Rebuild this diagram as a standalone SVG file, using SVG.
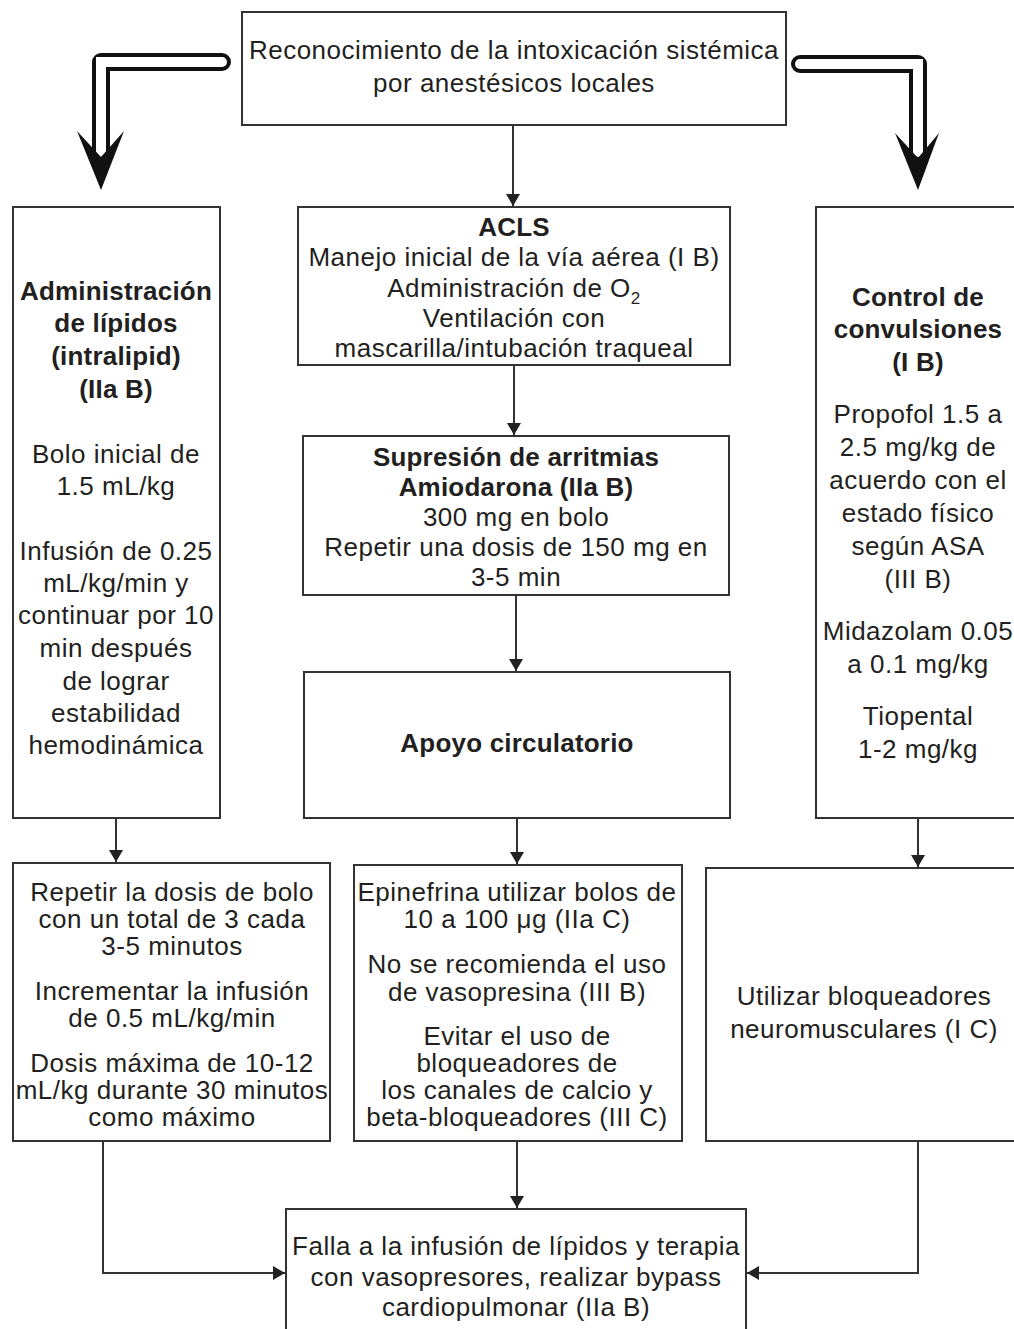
<svg xmlns="http://www.w3.org/2000/svg" width="1014" height="1329" viewBox="0 0 1014 1329">
  <defs>
    <style>
      .box { fill: #fff; stroke: #333; stroke-width: 2; }
      .t { font-family: "Liberation Sans", Arial, sans-serif; font-size: 26px; fill: #231f20; text-anchor: middle; letter-spacing: 0.5px; }
      .b { font-weight: bold; letter-spacing: 0.2px; }
      .edge { fill: none; stroke: #333; stroke-width: 2; }
      .hollow-out { fill: none; stroke: #111; stroke-width: 18; stroke-linecap: round; stroke-linejoin: round; }
      .hollow-in { fill: none; stroke: #fff; stroke-width: 10; stroke-linecap: round; stroke-linejoin: miter; }
      .head { fill: #111; }
    </style>
    <marker id="arr" viewBox="0 0 12 14" refX="12" refY="7" markerWidth="12" markerHeight="14" markerUnits="userSpaceOnUse" orient="auto">
      <path d="M0,0 L12,7 L0,14 Z" fill="#222"/>
    </marker>
  </defs>
  <rect width="1014" height="1329" fill="#fff"/>

  <!-- connectors -->
  <g id="connectors">
    <line class="edge" x1="513" y1="125" x2="513" y2="206" marker-end="url(#arr)"/>
    <line class="edge" x1="514" y1="365" x2="514" y2="435" marker-end="url(#arr)"/>
    <line class="edge" x1="516" y1="595" x2="516" y2="671" marker-end="url(#arr)"/>
    <line class="edge" x1="116" y1="818" x2="116" y2="862" marker-end="url(#arr)"/>
    <line class="edge" x1="517" y1="818" x2="517" y2="864" marker-end="url(#arr)"/>
    <line class="edge" x1="918" y1="818" x2="918" y2="867" marker-end="url(#arr)"/>
    <line class="edge" x1="517" y1="1141" x2="517" y2="1208" marker-end="url(#arr)"/>
    <polyline class="edge" points="103,1141 103,1273 285,1273" marker-end="url(#arr)"/>
    <polyline class="edge" points="918,1141 918,1273 747,1273" marker-end="url(#arr)"/>

    <!-- hollow branch arrows from the top box -->
    <path class="hollow-out" d="M222,62 H101 V152"/>
    <path class="hollow-in" d="M222,62 H101 V152"/>
    <path class="head" d="M101,190 L77,131 L101,157 L124,131 Z"/>

    <path class="hollow-out" d="M800,64 H918 V152"/>
    <path class="hollow-in" d="M800,64 H918 V152"/>
    <path class="head" d="M918,190 L895,133 L918,158 L939,133 Z"/>
  </g>

  <g id="node-inicio">
    <rect class="box" x="242" y="12" width="544" height="113"/>
    <text class="t" x="514" y="59">Reconocimiento de la intoxicación sistémica</text>
    <text class="t" x="514" y="92">por anestésicos locales</text>
  </g>

  <g id="node-acls">
    <rect class="box" x="298" y="207" width="432" height="158"/>
    <text class="t b" x="514" y="236">ACLS</text>
    <text class="t" x="514" y="266">Manejo inicial de la vía aérea (I B)</text>
    <text class="t" x="514" y="297">Administración de O<tspan font-size="17" dy="7">2</tspan></text>
    <text class="t" x="514" y="327">Ventilación con</text>
    <text class="t" x="514" y="357">mascarilla/intubación traqueal</text>
  </g>

  <g id="node-arritmias">
    <rect class="box" x="303" y="436" width="426" height="159"/>
    <text class="t b" x="516" y="466">Supresión de arritmias</text>
    <text class="t b" x="516" y="496">Amiodarona (IIa B)</text>
    <text class="t" x="516" y="526">300 mg en bolo</text>
    <text class="t" x="516" y="556">Repetir una dosis de 150 mg en</text>
    <text class="t" x="516" y="586">3-5 min</text>
  </g>

  <g id="node-apoyo">
    <rect class="box" x="304" y="672" width="426" height="146"/>
    <text class="t b" x="517" y="752">Apoyo circulatorio</text>
  </g>

  <g id="node-lipidos">
    <rect class="box" x="13" y="207" width="207" height="611"/>
    <text class="t b" x="116" y="300">Administración</text>
    <text class="t b" x="116" y="332">de lípidos</text>
    <text class="t b" x="116" y="365">(intralipid)</text>
    <text class="t b" x="116" y="398">(IIa B)</text>
    <text class="t" x="116" y="463">Bolo inicial de</text>
    <text class="t" x="116" y="495">1.5 mL/kg</text>
    <text class="t" x="116" y="560">Infusión de 0.25</text>
    <text class="t" x="116" y="592">mL/kg/min y</text>
    <text class="t" x="116" y="624">continuar por 10</text>
    <text class="t" x="116" y="657">min después</text>
    <text class="t" x="116" y="690">de lograr</text>
    <text class="t" x="116" y="722">estabilidad</text>
    <text class="t" x="116" y="754">hemodinámica</text>
  </g>

  <g id="node-convulsiones">
    <rect class="box" x="816" y="207" width="210" height="611"/>
    <text class="t b" x="918" y="306">Control de</text>
    <text class="t b" x="918" y="338">convulsiones</text>
    <text class="t b" x="918" y="371">(I B)</text>
    <text class="t" x="918" y="423">Propofol 1.5 a</text>
    <text class="t" x="918" y="456">2.5 mg/kg de</text>
    <text class="t" x="918" y="489">acuerdo con el</text>
    <text class="t" x="918" y="522">estado físico</text>
    <text class="t" x="918" y="555">según ASA</text>
    <text class="t" x="918" y="588">(III B)</text>
    <text class="t" x="918" y="640">Midazolam 0.05</text>
    <text class="t" x="918" y="673">a 0.1 mg/kg</text>
    <text class="t" x="918" y="725">Tiopental</text>
    <text class="t" x="918" y="758">1-2 mg/kg</text>
  </g>

  <g id="node-bolo">
    <rect class="box" x="13" y="863" width="317" height="278"/>
    <text class="t" x="172" y="901">Repetir la dosis de bolo</text>
    <text class="t" x="172" y="928">con un total de 3 cada</text>
    <text class="t" x="172" y="955">3-5 minutos</text>
    <text class="t" x="172" y="1000">Incrementar la infusión</text>
    <text class="t" x="172" y="1027">de 0.5 mL/kg/min</text>
    <text class="t" x="172" y="1072">Dosis máxima de 10-12</text>
    <text class="t" x="172" y="1099">mL/kg durante 30 minutos</text>
    <text class="t" x="172" y="1126">como máximo</text>
  </g>

  <g id="node-epinefrina">
    <rect class="box" x="354" y="865" width="328" height="276"/>
    <text class="t" x="517" y="901">Epinefrina utilizar bolos de</text>
    <text class="t" x="517" y="928">10 a 100 μg (IIa C)</text>
    <text class="t" x="517" y="973">No se recomienda el uso</text>
    <text class="t" x="517" y="1001">de vasopresina (III B)</text>
    <text class="t" x="517" y="1045">Evitar el uso de</text>
    <text class="t" x="517" y="1072">bloqueadores de</text>
    <text class="t" x="517" y="1099">los canales de calcio y</text>
    <text class="t" x="517" y="1126">beta-bloqueadores (III C)</text>
  </g>

  <g id="node-bloqueadores">
    <rect class="box" x="706" y="868" width="320" height="273"/>
    <text class="t" x="864" y="1005">Utilizar bloqueadores</text>
    <text class="t" x="864" y="1038">neuromusculares (I C)</text>
  </g>

  <g id="node-bypass">
    <rect class="box" x="286" y="1209" width="460" height="140"/>
    <text class="t" x="516" y="1255">Falla a la infusión de lípidos y terapia</text>
    <text class="t" x="516" y="1286">con vasopresores, realizar bypass</text>
    <text class="t" x="516" y="1316">cardiopulmonar (IIa B)</text>
  </g>
</svg>
